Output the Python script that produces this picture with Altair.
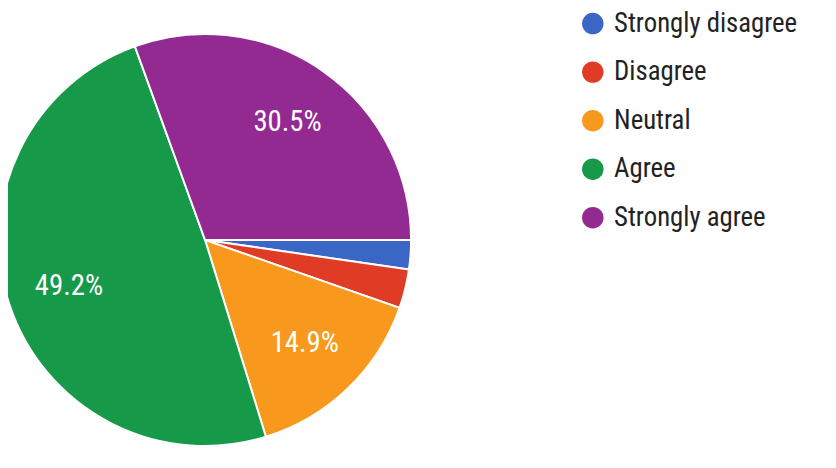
import math
import altair as alt
import pandas as pd

categories = ["Strongly disagree", "Disagree", "Neutral", "Agree", "Strongly agree"]
counts = [6, 8, 39, 129, 80]
colors = ["#3a66c6", "#e03b24", "#f8981d", "#17994a", "#932a91"]

df = pd.DataFrame({"category": categories, "count": counts, "order": list(range(len(categories)))})

FONT = "Liberation Sans Narrow, Roboto Condensed, Arial Narrow, sans-serif"
CX, CY, R = 199, 232, 208

base = alt.Chart(df).transform_joinaggregate(total="sum(count)").transform_calculate(
    pct="datum.count / datum.total",
    label="datum.count / datum.total >= 0.05 ? format(datum.count / datum.total, '.1%') : ''",
).encode(
    theta=alt.Theta("count:Q", stack=True,
                    scale=alt.Scale(range=[math.pi / 2, math.pi / 2 + 2 * math.pi])),
    order=alt.Order("order:Q"),
)

pie = base.mark_arc(stroke="white", strokeWidth=2).encode(
    x=alt.value(CX), y=alt.value(CY), radius=alt.value(R),
    color=alt.Color("category:N",
                    scale=alt.Scale(domain=categories, range=colors),
                    sort=categories,
                    legend=alt.Legend(title=None, orient="none", legendX=577, legendY=0,
                                      symbolType="circle", symbolSize=470,
                                      symbolStrokeWidth=0,
                                      labelFontSize=27, labelFont=FONT,
                                      labelLimit=400,
                                      labelColor="#222222", rowPadding=21,
                                      labelOffset=8)),
)

text = base.mark_text(font=FONT, fontSize=29, color="white").encode(
    x=alt.value(CX), y=alt.value(CY), radius=alt.value(145),
    text="label:N",
)

chart = alt.layer(pie, text).properties(
    width=828, height=460, padding=0, autosize="none"
).configure_view(stroke=None)

chart.save("out.html", embed_options={"renderer": "svg", "actions": False})
